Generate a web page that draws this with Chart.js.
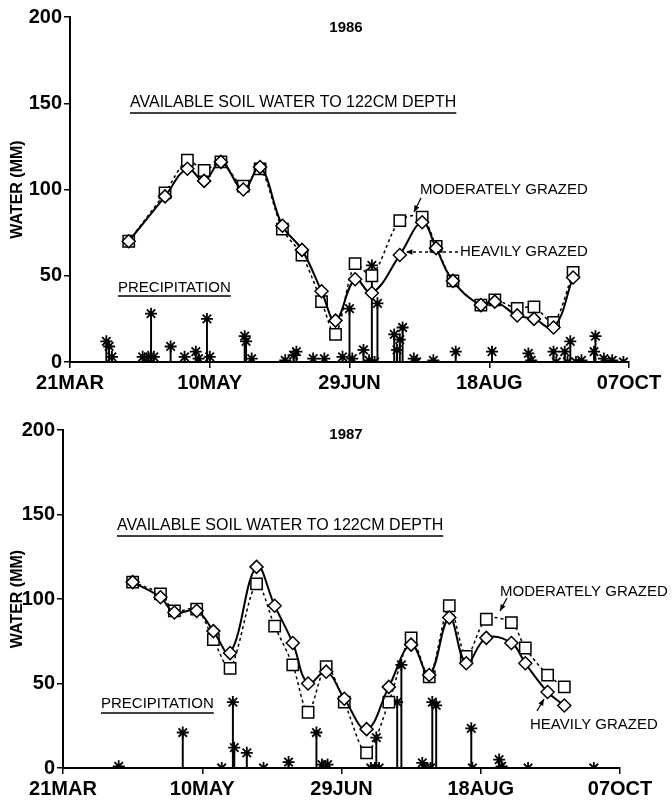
<!DOCTYPE html>
<html>
<head>
<meta charset="utf-8">
<script src="https://cdn.jsdelivr.net/npm/chart.js@4.4.0/dist/chart.umd.min.js"></script>
<style>
  body { margin: 0; background: #fff; }
  canvas { display: block; }
</style>
</head>
<body>
<canvas id="chart86" width="672" height="400"></canvas>
<canvas id="chart87" width="672" height="408"></canvas>
<script>
// x axis is day of year
const tickDays = [80, 130, 180, 230, 280];
const tickLabels = ['21MAR', '10MAY', '29JUN', '18AUG', '07OCT'];

// 1986 available soil water (mm)
const days86 = [101, 114, 122, 128, 134, 142, 148, 156, 163, 170, 175, 182, 188, 198, 206, 211, 217, 227, 232, 240, 246, 253, 260];
const moderate86 = [70, 98, 117, 111, 116, 102, 112, 77, 62, 35, 16, 57, 50, 82, 84, 67, 47, 33, 36, 31, 32, 23, 52];
const heavy86 = [70, 96, 112, 105, 116, 100, 113, 79, 65, 41, 24, 48, 40, 62, 81, 66, 47, 33, 35, 27, 25, 20, 49];

// 1986 precipitation (mm)
const rainDays86 = [93, 94, 95, 106, 108, 109, 110, 116, 121, 125, 126, 129, 130, 142.5, 143, 145, 157, 160, 161, 167, 171, 177.5, 180, 181, 185, 187, 188, 189, 190, 196, 197, 198, 199, 203, 204, 210, 218, 231, 244, 245, 253, 254, 257, 258, 259, 261, 263, 267.5, 268, 271, 274, 278];
const rain86 = [12, 9, 3, 3, 3, 28, 3, 9, 3, 6, 2, 25, 3, 15, 12, 2, 1, 4, 6, 2, 2, 3, 31, 2, 7, 1, 56, 0, 34, 16, 7, 13, 20, 2, 0, 1, 6, 6, 5, 1, 6, 0, 6, 0, 12, 0, 1, 6, 15, 2, 1, 0];

// 1987 available soil water (mm)
const days87 = [105, 115, 120, 128, 134, 140, 149.5, 156, 162.5, 168, 174.5, 181, 189, 197, 205, 211.5, 218.7, 224.8, 232, 241, 246, 254, 260];
const moderate87 = [110, 103, 93, 94, 76, 59, 109, 84, 61, 33, 60, 39, 9, 39, 77, 54, 96, 66, 88, 86, 71, 55, 48];
const heavy87 = [110, 101, 92, 93, 81, 68, 119, 96, 74, 50, 57, 41, 23, 48, 73, 55, 89, 62, 77, 74, 62, 45, 37];

// 1987 precipitation (mm)
const rainDays87 = [100, 123, 137, 141, 141.5, 146, 152, 161, 171, 173, 175, 190.5, 192, 192.5, 193.5, 200, 201.5, 209, 210, 212, 212.6, 214, 226.6, 227, 236.6, 237.5, 247, 270.6];
const rain87 = [1, 21, 0, 39, 12, 9, 0, 3.5, 21, 2, 2, 0, 0, 18, 0, 39, 61, 3, 0, 0, 39, 37, 23.5, 0, 5, 1, 0, 0];

Chart.defaults.font.family = "'Liberation Sans', Arial, sans-serif";
Chart.defaults.color = '#000';

function pairs(xs, ys) {
  return xs.map((x, i) => ({ x: x, y: ys[i] }));
}

const notesPlugin = {
  id: 'notes',
  afterDraw(chart, args, opts) {
    const ctx = chart.ctx;
    ctx.save();
    ctx.fillStyle = '#000';
    ctx.strokeStyle = '#000';
    ctx.textBaseline = 'middle';
    (opts.texts || []).forEach(t => {
      ctx.font = t.font;
      ctx.textAlign = t.align || 'left';
      ctx.fillText(t.text, t.x, t.y);
      if (t.underline) {
        const w = ctx.measureText(t.text).width;
        ctx.lineWidth = 1.3;
        ctx.beginPath();
        ctx.moveTo(t.x, t.underline);
        ctx.lineTo(t.x + w, t.underline);
        ctx.stroke();
      }
    });
    (opts.arrows || []).forEach(a => {
      ctx.lineWidth = 1.3;
      ctx.setLineDash(a.dash || []);
      ctx.beginPath();
      ctx.moveTo(a.x1, a.y1);
      ctx.lineTo(a.x2, a.y2);
      ctx.stroke();
      ctx.setLineDash([]);
      const ang = Math.atan2(a.y2 - a.y1, a.x2 - a.x1);
      ctx.beginPath();
      ctx.moveTo(a.x2, a.y2);
      ctx.lineTo(a.x2 - 7 * Math.cos(ang - 0.4), a.y2 - 7 * Math.sin(ang - 0.4));
      ctx.lineTo(a.x2 - 7 * Math.cos(ang + 0.4), a.y2 - 7 * Math.sin(ang + 0.4));
      ctx.closePath();
      ctx.fill();
    });
    ctx.restore();
  }
};

function makeChart(id, days, moderate, heavy, rainDays, rain, box, notes) {
  return new Chart(document.getElementById(id), {
    type: 'line',
    data: {
      datasets: [{
        label: 'Moderately grazed',
        data: pairs(days, moderate),
        borderColor: '#000',
        borderWidth: 1.5,
        borderDash: [3, 3],
        tension: 0.3,
        pointStyle: 'rect',
        pointRadius: 8,
        pointBorderWidth: 1.5,
        pointBackgroundColor: '#fff',
        order: 2
      }, {
        label: 'Heavily grazed',
        data: pairs(days, heavy),
        borderColor: '#000',
        borderWidth: 2,
        tension: 0.4,
        pointStyle: 'rectRot',
        pointRadius: 6.5,
        pointBorderWidth: 1.5,
        pointBackgroundColor: '#fff',
        order: 1
      }, {
        type: 'scatter',
        label: 'Precipitation',
        data: pairs(rainDays, rain),
        pointStyle: 'star',
        pointRadius: 6,
        borderColor: '#000',
        borderWidth: 1.8,
        order: 3
      }, {
        type: 'bar',
        label: 'Precipitation stick',
        data: pairs(rainDays, rain),
        backgroundColor: '#000',
        barThickness: 1.3,
        order: 4
      }]
    },
    options: {
      responsive: false,
      animation: false,
      layout: { padding: { top: box.top, right: box.right, left: 0, bottom: 0 } },
      plugins: {
        legend: { display: false },
        tooltip: { enabled: false },
        notes: notes
      },
      scales: {
        x: {
          type: 'linear',
          min: 80,
          max: 280,
          offset: false,
          afterBuildTicks: axis => { axis.ticks = tickDays.map(v => ({ value: v })); },
          afterFit: axis => { axis.height = box.xHeight; },
          ticks: {
            callback: v => tickLabels[tickDays.indexOf(v)],
            font: { size: 20, weight: 'bold' },
            maxRotation: 0,
            autoSkip: false,
            padding: 3
          },
          grid: { drawOnChartArea: false, offset: false, tickLength: 6, color: '#000', lineWidth: 1.5 },
          border: { color: '#000', width: 2 }
        },
        y: {
          min: 0,
          max: 200,
          afterFit: axis => { axis.width = box.left; },
          ticks: { stepSize: 50, font: { size: 20, weight: 'bold' }, padding: 2 },
          grid: { drawOnChartArea: false, tickLength: 6, color: '#000', lineWidth: 1.5 },
          border: { color: '#000', width: 2 },
          title: {
            display: true,
            text: 'WATER (MM)',
            font: { size: 16, weight: 'bold' },
            padding: { top: 8, bottom: 0 }
          }
        }
      }
    },
    plugins: [notesPlugin]
  });
}

makeChart('chart86', days86, moderate86, heavy86, rainDays86, rain86,
  { left: 70, top: 17, right: 43, xHeight: 38 },
  {
    texts: [
      { text: '1986', x: 346, y: 28, font: 'bold 15px "Liberation Sans", Arial', align: 'center' },
      { text: 'AVAILABLE SOIL WATER TO 122CM DEPTH', x: 130, y: 103, underline: 113, font: '16px "Liberation Sans", Arial' },
      { text: 'PRECIPITATION', x: 118, y: 288, underline: 296, font: '15px "Liberation Sans", Arial' },
      { text: 'MODERATELY GRAZED', x: 420, y: 190, font: '15px "Liberation Sans", Arial' },
      { text: 'HEAVILY GRAZED', x: 460, y: 252, font: '15px "Liberation Sans", Arial' }
    ],
    arrows: [
      { x1: 421, y1: 198, x2: 414, y2: 212 },
      { x1: 458, y1: 252, x2: 406, y2: 252, dash: [3, 3] }
    ]
  });

makeChart('chart87', days87, moderate87, heavy87, rainDays87, rain87,
  { left: 63, top: 30, right: 52, xHeight: 40 },
  {
    texts: [
      { text: '1987', x: 346, y: 35, font: 'bold 15px "Liberation Sans", Arial', align: 'center' },
      { text: 'AVAILABLE SOIL WATER TO 122CM DEPTH', x: 117, y: 126, underline: 136, font: '16px "Liberation Sans", Arial' },
      { text: 'PRECIPITATION', x: 101, y: 304, underline: 313, font: '15px "Liberation Sans", Arial' },
      { text: 'MODERATELY GRAZED', x: 500, y: 192, font: '15px "Liberation Sans", Arial' },
      { text: 'HEAVILY GRAZED', x: 530, y: 325, font: '15px "Liberation Sans", Arial' }
    ],
    arrows: [
      { x1: 507, y1: 198, x2: 500, y2: 211 },
      { x1: 537, y1: 311, x2: 544, y2: 299 }
    ]
  });
</script>
</body>
</html>
